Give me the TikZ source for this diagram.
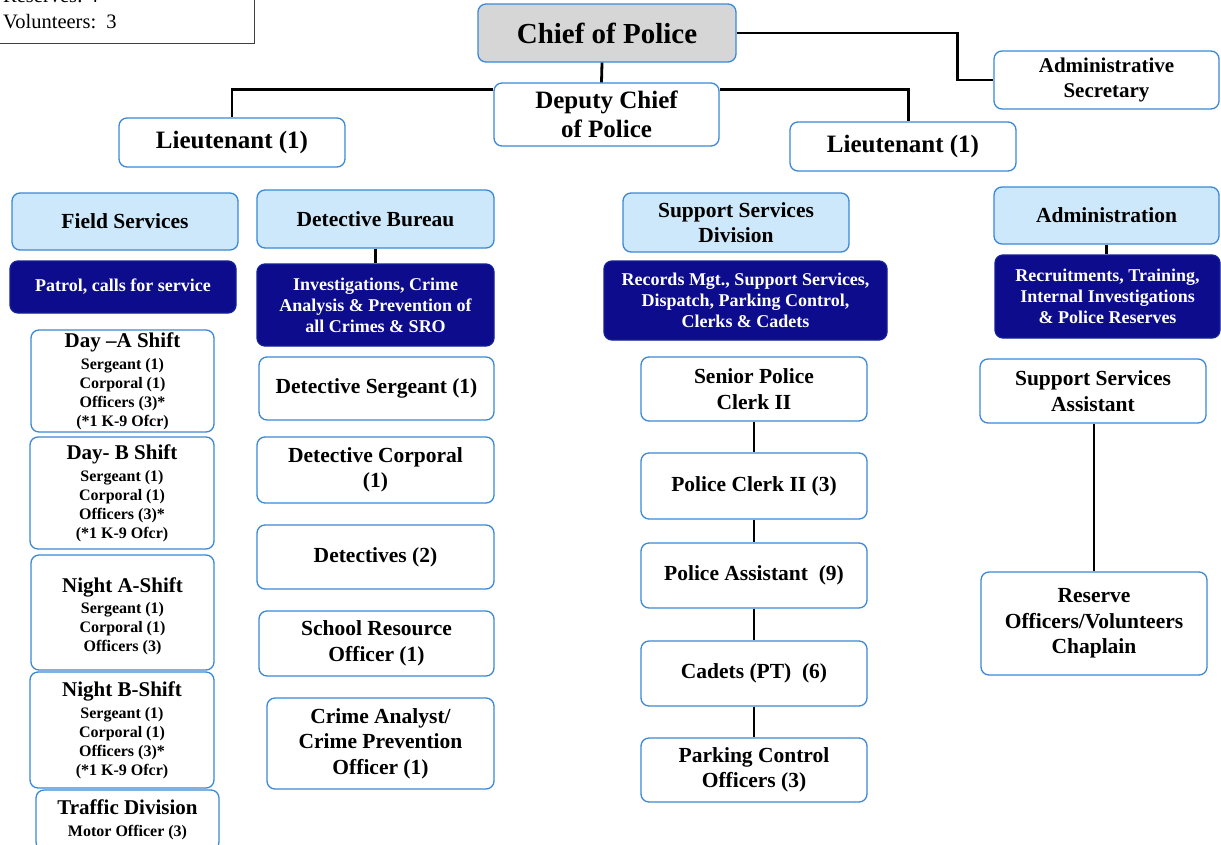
\documentclass[tikz,border=0pt]{standalone}
\usepackage{fontspec}
\setmainfont{Liberation Serif}

\definecolor{edgeblue}{RGB}{58,136,214}
\definecolor{headblue}{RGB}{205,232,250}
\definecolor{navy}{RGB}{12,12,140}
\definecolor{chiefgray}{RGB}{214,214,214}

% box given by its corners: name, x1, y1, x2, y2, style, text
\newcommand\orgbox[7]{%
  \node[#6, minimum width={#4-#2}, minimum height={#5-#3}] (#1)
    at ({(#2+#4)/2},{(#3+#5)/2}) {#7};}

\tikzset{
  unit/.style={draw=edgeblue, line width=1.3pt, rounded corners=8pt, fill=white,
    align=center, inner sep=2pt, font=\bfseries\fontsize{21.5}{25.5}\selectfont},
  head/.style={unit, fill=headblue},
  duty/.style={unit, fill=navy, draw=navy!85!edgeblue, text=white,
    font=\bfseries\fontsize{18}{21}\selectfont},
  shiftbox/.style={unit, font=\bfseries\fontsize{16}{19}\selectfont},
  rank/.style={unit, font=\bfseries\fontsize{25}{29}\selectfont},
  link/.style={line width=2.8pt, black},
}

\newcommand\ttl[1]{{\fontsize{21}{24}\selectfont #1}}

\begin{document}
\begin{tikzpicture}[x=1pt, y=-1pt]
\useasboundingbox (0,0) rectangle (1221,844);
\clip (0,0) rectangle (1221,844);
\fill[white] (0,0) rectangle (1221,844);

% staffing tally in the corner
\draw[black!75, line width=1pt] (-5,-40) rectangle (254,43);
\node[anchor=base west, inner sep=0, font=\fontsize{20.5}{24}\selectfont] (reserves) at (3,2) {Reserves:~4};
\node[anchor=base west, inner sep=0, font=\fontsize{20.5}{24}\selectfont] (volunteers) at (3,28) {Volunteers:~~3};

% command staff
\orgbox{chief}{478}{4}{736}{62}{unit, fill=chiefgray, font=\bfseries\fontsize{29}{33}\selectfont}{Chief of Police}
\orgbox{deputy}{494}{83}{719}{146}{rank}{Deputy Chief\\of Police}
\orgbox{secretary}{994}{51}{1219}{109}{unit, font=\bfseries\fontsize{21}{25}\selectfont}{Administrative\\Secretary}
\orgbox{ltleft}{119}{118}{345}{167}{rank}{Lieutenant (1)}
\orgbox{ltright}{790}{122}{1016}{171}{rank}{Lieutenant (1)}

% field services
\orgbox{field}{12}{193}{238}{250}{head}{Field Services}
\orgbox{patrol}{10}{261}{236}{313}{duty}{Patrol, calls for service}
\orgbox{dayA}{31}{330}{214}{432}{shiftbox}{\ttl{Day –A Shift}\\[3pt]Sergeant (1)\\Corporal (1)\\Officers (3)*\\(*1 K-9 Ofcr)}
\orgbox{dayB}{30}{437}{214}{549}{shiftbox}{\ttl{Day- B Shift}\\[3pt]Sergeant (1)\\Corporal (1)\\Officers (3)*\\(*1 K-9 Ofcr)}
\orgbox{nightA}{31}{555}{214}{670}{shiftbox}{\ttl{\rule{0pt}{23pt}Night A-Shift}\\[2pt]Sergeant (1)\\Corporal (1)\\Officers (3)}
\orgbox{nightB}{30}{672}{214}{788}{shiftbox}{\ttl{Night B-Shift}\\[3pt]Sergeant (1)\\Corporal (1)\\Officers (3)*\\(*1 K-9 Ofcr)}
\orgbox{traffic}{36}{790}{219}{850}{shiftbox}{\ttl{Traffic Division}\\[3pt]Motor Officer (3)}

% detective bureau
\orgbox{detbureau}{257}{190}{494}{248}{head}{Detective Bureau}
\orgbox{investig}{257}{264}{494}{346}{duty}{Investigations, Crime\\Analysis \& Prevention of\\all Crimes \& SRO}
\orgbox{detsgt}{259}{357}{494}{420}{unit}{Detective Sergeant (1)}
\orgbox{detcpl}{257}{437}{494}{503}{unit}{Detective Corporal\\(1)}
\orgbox{detectives}{257}{525}{494}{589}{unit}{Detectives (2)}
\orgbox{sro}{259}{611}{494}{676}{unit}{School Resource\\Officer (1)}
\orgbox{analyst}{267}{698}{494}{789}{unit}{Crime Analyst/\\Crime Prevention\\Officer (1)}

% support services
\orgbox{support}{623}{193}{849}{252}{head}{Support Services\\Division}
\orgbox{records}{604}{261}{887}{340}{duty}{Records Mgt., Support Services,\\Dispatch, Parking Control,\\Clerks \& Cadets}
\orgbox{srclerk}{641}{357}{867}{421}{unit}{Senior Police\\Clerk II}
\orgbox{clerk}{641}{453}{867}{519}{unit}{Police Clerk II (3)}
\orgbox{assistant}{641}{543}{867}{608}{unit}{Police Assistant~~(9)}
\orgbox{cadets}{641}{641}{867}{706}{unit}{Cadets (PT)~~(6)}
\orgbox{parking}{641}{738}{867}{802}{unit}{Parking Control\\Officers (3)}

% administration
\orgbox{admin}{994}{187}{1219}{244}{head}{Administration}
\orgbox{recruit}{995}{255}{1220}{338}{duty}{Recruitments, Training,\\Internal Investigations\\\& Police Reserves}
\orgbox{ssassist}{980}{359}{1206}{423}{unit}{Support Services\\Assistant}
\orgbox{reserve}{981}{572}{1207}{675}{unit}{Reserve\\Officers/Volunteers\\Chaplain}

% reporting lines
\draw[link] ([xshift=-5pt]chief.south) -- ([xshift=-5pt]deputy.north);
\draw[link] (chief.east) -- ++(221,0) |- (secretary.west);
\draw[link] ([yshift=-7pt]deputy.north west) -| (ltleft.north);
\draw[link] ([yshift=-7pt]deputy.north east) -| ([xshift=5.5pt]ltright.north);
\draw[link] (detbureau.south) -- (investig.north);
\draw[link] (srclerk.south) -- (clerk.north);
\draw[link] (clerk.south) -- (assistant.north);
\draw[link] (assistant.south) -- (cadets.north);
\draw[link] (cadets.south) -- (parking.north);
\draw[link] (admin.south) -- (admin.south |- recruit.north);
\draw[link] (reserve.north |- ssassist.south) -- (reserve.north);
\end{tikzpicture}
\end{document}
